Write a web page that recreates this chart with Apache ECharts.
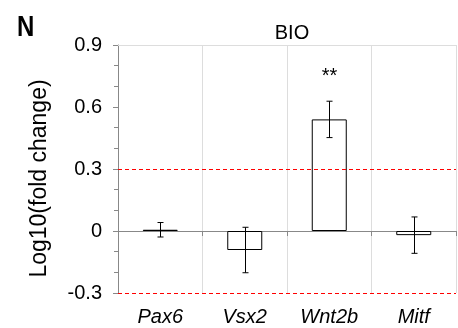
<!DOCTYPE html>
<html>
<head>
<meta charset="utf-8">
<script src="https://cdn.jsdelivr.net/npm/echarts@6/dist/echarts.min.js"></script>
<style>
  html, body { margin: 0; padding: 0; background: #fff; }
  #chart { width: 458px; height: 328px; }
</style>
</head>
<body>
<div id="chart"></div>
<script>
// data
const genes = ['Pax6', 'Vsx2', 'Wnt2b', 'Mitf'];
const foldChange = [0.006, -0.092, 0.54, -0.02];
const errors = [0.035, 0.11, 0.088, 0.088];
const stars = ['', '', '**', ''];
const thresholds = [0.3, -0.3];

const chart = echarts.init(document.getElementById('chart'));
const font = 'Liberation Sans, Arial, sans-serif';

const errorData = foldChange.map((v, i) => [i, v - errors[i], v + errors[i], stars[i]]);

const option = {
  animation: false,
  textStyle: { fontFamily: font },
  graphic: [{
    type: 'text', x: 17, y: 13, scaleX: 0.8,
    style: { text: 'N', font: 'bold 30px ' + font, fill: '#000' }
  }],
  title: {
    text: 'BIO', left: 287, top: 18, textAlign: 'center',
    textStyle: { fontSize: 20, fontWeight: 'normal', color: '#000', fontFamily: font }
  },
  grid: { left: 118, right: 2, top: 45, bottom: 35, containLabel: false, outerBoundsMode: 'none' },
  xAxis: [
    {
      // labels + dividers along the bottom
      type: 'category',
      data: genes,
      position: 'bottom',
      axisLine: { show: false, onZero: false },
      axisTick: { show: false },
      axisLabel: { margin: 14, fontSize: 20, fontStyle: 'italic', color: '#000', fontFamily: font },
      splitLine: { show: true, lineStyle: { color: '#ddd', width: 1 } }
    },
    {
      // zero line with its small ticks
      type: 'category',
      data: genes,
      position: 'top',
      axisLine: { show: true, onZero: true, lineStyle: { color: '#888', width: 1 } },
      axisTick: { show: true, inside: true, length: 5, lineStyle: { color: '#888' } },
      axisLabel: { show: false },
      splitLine: { show: false }
    }
  ],
  yAxis: {
    type: 'value',
    min: -0.3, max: 0.9, interval: 0.3,
    name: 'Log10(fold change)',
    nameLocation: 'middle', nameGap: 67,
    nameTextStyle: { fontSize: 23, color: '#000', fontFamily: font, padding: [0, 19, 0, 0] },
    axisLine: { show: true, onZero: false, lineStyle: { color: '#888' } },
    axisTick: { show: true, length: 5, lineStyle: { color: '#888' } },
    minorTick: { show: true, splitNumber: 3, length: 4, lineStyle: { color: '#888' } },
    axisLabel: {
      margin: 16, fontSize: 20, color: '#000', fontFamily: font,
      formatter: v => (Math.abs(v) < 1e-9 ? '0' : v.toFixed(1))
    },
    splitLine: { show: false }
  },
  series: [
    {
      type: 'bar',
      data: foldChange,
      barWidth: 35,
      itemStyle: { color: '#fff', borderColor: '#000', borderWidth: 1 },
      z: 2
    },
    {
      // top border and red dashed threshold lines, spanning the plot
      type: 'custom',
      data: [[0.9, 'top']].concat(thresholds.map(t => [t, 'thr'])),
      encode: { y: 0 },
      z: 4,
      silent: true,
      renderItem: (params, api) => {
        const cs = params.coordSys;
        const y = Math.round(api.coord([0, api.value(0)])[1]) + 0.5;
        const isTop = params.dataIndex === 0;
        return {
          type: 'line',
          shape: { x1: cs.x, y1: y, x2: cs.x + cs.width, y2: y },
          style: isTop
            ? { stroke: '#ddd', lineWidth: 1 }
            : { stroke: '#ff0000', lineWidth: 1, lineDash: [4, 3] }
        };
      }
    },
    {
      type: 'custom',
      data: errorData,
      z: 3,
      renderItem: (params, api) => {
        const lo = api.coord([api.value(0), api.value(1)]);
        const hi = api.coord([api.value(0), api.value(2)]);
        const x = Math.round(lo[0]) + 0.5;
        const cap = 3;
        const st = { stroke: '#000', lineWidth: 1 };
        const children = [
          { type: 'line', shape: { x1: x, y1: hi[1], x2: x, y2: lo[1] }, style: st },
          { type: 'line', shape: { x1: x - cap, y1: hi[1], x2: x + cap, y2: hi[1] }, style: st },
          { type: 'line', shape: { x1: x - cap, y1: lo[1], x2: x + cap, y2: lo[1] }, style: st }
        ];
        const label = api.value(3);
        if (label) {
          children.push({
            type: 'text',
            style: { x: x, y: hi[1] - 15, text: label, font: '20px ' + font, fill: '#000', textAlign: 'center', textVerticalAlign: 'bottom' }
          });
        }
        return { type: 'group', children };
      }
    }
  ]
};

chart.setOption(option);
</script>
</body>
</html>
